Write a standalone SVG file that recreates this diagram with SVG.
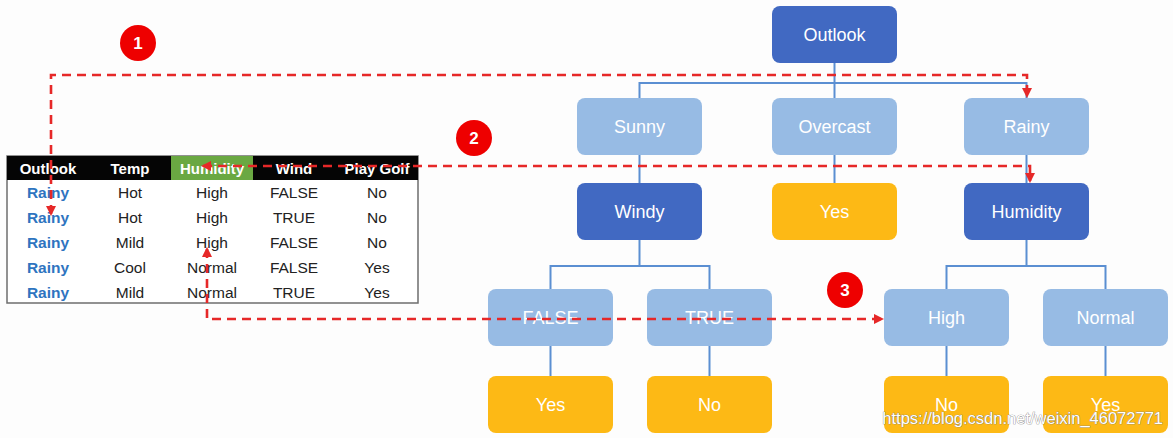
<svg xmlns="http://www.w3.org/2000/svg" width="1173" height="438" viewBox="0 0 1173 438">
<style>
.n rect{rx:8;ry:8}
.dk{fill:#4169c2}
.lt{fill:#97bbe4}
.or{fill:#fdb915}
.nt{font-family:"Liberation Sans",Arial,sans-serif;font-size:18px;fill:#fff;text-anchor:middle}
.ln{fill:none;stroke:#5b8fd2;stroke-width:2}
.rd{fill:none;stroke:#e62828;stroke-width:2.6;stroke-dasharray:9 6}
.th{font-family:"Liberation Sans",Arial,sans-serif;font-size:15px;font-weight:bold;fill:#fff;text-anchor:middle}
.td{font-family:"Liberation Sans",Arial,sans-serif;font-size:15.5px;fill:#222;text-anchor:middle}
.tr{font-family:"Liberation Sans",Arial,sans-serif;font-size:15.5px;font-weight:bold;fill:#2e74c0;text-anchor:middle}
.badge circle{fill:#ee0000}
.badge text{font-family:"Liberation Sans",Arial,sans-serif;font-size:17px;font-weight:bold;fill:#fff;text-anchor:middle}
</style>
<defs>
<marker id="ah" viewBox="0 0 10 10" refX="8" refY="5" markerWidth="4" markerHeight="4" orient="auto-start-reverse" markerUnits="strokeWidth">
<path d="M0,0 L10,5 L0,10 Z" fill="#e62828"/>
</marker>
</defs>
<rect width="1173" height="438" fill="#fdfdfd"/>

<g id="connectors">
<path class="ln" d="M834.5 63 V98"/>
<path class="ln" d="M639.5 98 V83 H1026.5 V98"/>
<path class="ln" d="M639.5 155 V183 M834.5 155 V183 M1026.5 155 V183"/>
<path class="ln" d="M639.5 240 V266 M550.5 289 V266 H709.5 V289"/>
<path class="ln" d="M1026.5 240 V266 M946.5 289 V266 H1105.5 V289"/>
<path class="ln" d="M550.5 346 V376 M709.5 346 V376 M946.5 346 V376 M1105.5 346 V376"/>
</g>

<g id="n-outlook" class="n"><rect class="dk" x="772" y="6" width="125" height="57"/><text class="nt" x="834.5" y="41">Outlook</text></g>
<g id="n-sunny" class="n"><rect class="lt" x="577" y="98" width="125" height="57"/><text class="nt" x="639.5" y="133">Sunny</text></g>
<g id="n-overcast" class="n"><rect class="lt" x="772" y="98" width="125" height="57"/><text class="nt" x="834.5" y="133">Overcast</text></g>
<g id="n-rainy" class="n"><rect class="lt" x="964" y="98" width="125" height="57"/><text class="nt" x="1026.5" y="133">Rainy</text></g>
<g id="n-windy" class="n"><rect class="dk" x="577" y="183" width="125" height="57"/><text class="nt" x="639.5" y="218">Windy</text></g>
<g id="n-yes-overcast" class="n"><rect class="or" x="772" y="183" width="125" height="57"/><text class="nt" x="834.5" y="218">Yes</text></g>
<g id="n-humidity" class="n"><rect class="dk" x="964" y="183" width="125" height="57"/><text class="nt" x="1026.5" y="218">Humidity</text></g>
<g id="n-false" class="n"><rect class="lt" x="488" y="289" width="125" height="57"/><text class="nt" x="550.5" y="324">FALSE</text></g>
<g id="n-true" class="n"><rect class="lt" x="647" y="289" width="125" height="57"/><text class="nt" x="709.5" y="324">TRUE</text></g>
<g id="n-high" class="n"><rect class="lt" x="884" y="289" width="125" height="57"/><text class="nt" x="946.5" y="324">High</text></g>
<g id="n-normal" class="n"><rect class="lt" x="1043" y="289" width="125" height="57"/><text class="nt" x="1105.5" y="324">Normal</text></g>
<g id="n-yes-false" class="n"><rect class="or" x="488" y="376" width="125" height="57"/><text class="nt" x="550.5" y="411">Yes</text></g>
<g id="n-no-true" class="n"><rect class="or" x="647" y="376" width="125" height="57"/><text class="nt" x="709.5" y="411">No</text></g>
<g id="n-no-high" class="n"><rect class="or" x="884" y="376" width="125" height="57"/><text class="nt" x="946.5" y="411">No</text></g>
<g id="n-yes-normal" class="n"><rect class="or" x="1043" y="376" width="125" height="57"/><text class="nt" x="1105.5" y="411">Yes</text></g>

<g id="table">
<rect x="7" y="156" width="411" height="147" fill="#fff" stroke="#6d6d6d" stroke-width="1.5"/>
<rect x="7" y="156" width="411" height="24" fill="#050505"/>
<rect x="171" y="156" width="82" height="24" fill="#6aa842"/>
<text class="th" x="48" y="174">Outlook</text>
<text class="th" x="130" y="174">Temp</text>
<text class="th" x="212" y="174">Humidity</text>
<text class="th" x="294" y="174">Wind</text>
<text class="th" x="377" y="174">Play Golf</text>
<text class="tr" x="48" y="198">Rainy</text><text class="td" x="130" y="198">Hot</text><text class="td" x="212" y="198">High</text><text class="td" x="294" y="198">FALSE</text><text class="td" x="377" y="198">No</text>
<text class="tr" x="48" y="223">Rainy</text><text class="td" x="130" y="223">Hot</text><text class="td" x="212" y="223">High</text><text class="td" x="294" y="223">TRUE</text><text class="td" x="377" y="223">No</text>
<text class="tr" x="48" y="248">Rainy</text><text class="td" x="130" y="248">Mild</text><text class="td" x="212" y="248">High</text><text class="td" x="294" y="248">FALSE</text><text class="td" x="377" y="248">No</text>
<text class="tr" x="48" y="273">Rainy</text><text class="td" x="130" y="273">Cool</text><text class="td" x="212" y="273">Normal</text><text class="td" x="294" y="273">FALSE</text><text class="td" x="377" y="273">Yes</text>
<text class="tr" x="48" y="298">Rainy</text><text class="td" x="130" y="298">Mild</text><text class="td" x="212" y="298">Normal</text><text class="td" x="294" y="298">TRUE</text><text class="td" x="377" y="298">Yes</text>
</g>

<g id="red-paths">
<path class="rd" d="M51 214 V75 H1027 V96" marker-start="url(#ah)" marker-end="url(#ah)"/>
<path class="rd" d="M203 166 H1030 V181" marker-start="url(#ah)" marker-end="url(#ah)"/>
<path class="rd" d="M207 249 V319 H882" marker-start="url(#ah)" marker-end="url(#ah)"/>
</g>

<g id="badge-1" class="badge"><circle cx="138" cy="43" r="18"/><text x="138" y="49">1</text></g>
<g id="badge-2" class="badge"><circle cx="474" cy="138" r="18"/><text x="474" y="144">2</text></g>
<g id="badge-3" class="badge"><circle cx="845" cy="290" r="18"/><text x="845" y="296">3</text></g>

<text x="1163" y="424" text-anchor="end" font-family="'Liberation Sans',Arial,sans-serif" font-size="16.5px" fill="#fff" stroke="#7a7a7a" stroke-width="0.7" paint-order="stroke">https://blog.csdn.net/weixin_46072771</text>
</svg>
